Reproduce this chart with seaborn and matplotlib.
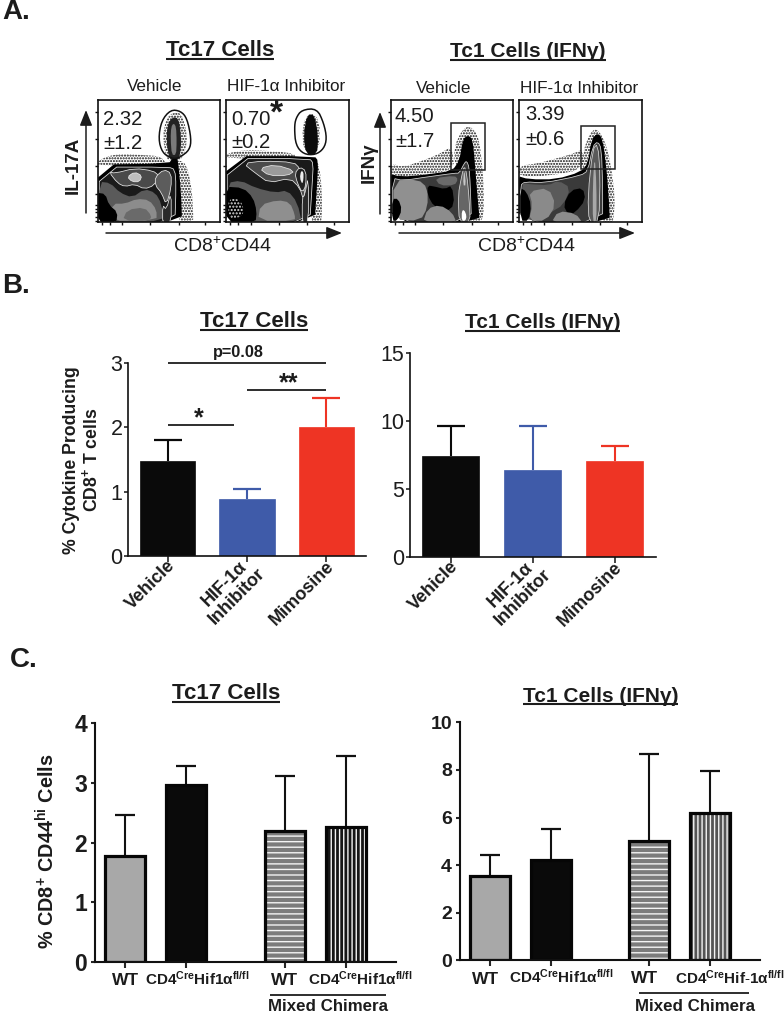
import matplotlib
matplotlib.use("Agg")
import matplotlib.pyplot as plt
from matplotlib.patches import Polygon, Rectangle
from matplotlib.transforms import ScaledTranslation
import numpy as np
import seaborn as sns

sns.set_style("ticks")
plt.rcParams["font.family"] = ["Liberation Sans", "DejaVu Sans"]
plt.rcParams["mathtext.fontset"] = "custom"
plt.rcParams["mathtext.rm"] = "Liberation Sans"
plt.rcParams["mathtext.it"] = "Liberation Sans"
plt.rcParams["mathtext.bf"] = "Liberation Sans:bold"
plt.rcParams["mathtext.default"] = "regular"
plt.rcParams["hatch.linewidth"] = 1.0

W, H = 784, 1013
INK = "#1c1c1c"

# ---------- data ----------
b_categories = ["Vehicle", "HIF-1α\nInhibitor", "Mimosine"]
b_tc17_mean = [1.47, 0.88, 2.01]
b_tc17_top = [1.81, 1.04, 2.45]
b_tc1_mean = [7.45, 6.45, 7.08]
b_tc1_top = [9.68, 9.63, 8.19]
b_colors = ["#0a0a0a", "#3f5ba9", "#ee3424"]

c_left_labels = ["WT", r"$\mathbf{CD4^{Cre}Hif1α^{fl/fl}}$", "WT", r"$\mathbf{CD4^{Cre}Hif1α^{fl/fl}}$"]
c_right_labels = ["WT", r"$\mathbf{CD4^{Cre}Hif1α^{fl/fl}}$", "WT", r"$\mathbf{CD4^{Cre}Hif\text{-}1α^{fl/fl}}$"]
c_slots = [0, 1, 2.62, 3.62]
c_tc17_mean = [1.77, 2.97, 2.20, 2.27]
c_tc17_top = [2.46, 3.29, 3.11, 3.46]
c_tc1_mean = [3.56, 4.22, 5.01, 6.18]
c_tc1_top = [4.43, 5.53, 8.66, 7.96]

flow_stats = [("2.32", "±1.2"), ("0.70", "±0.2"), ("4.50", "±1.7"), ("3.39", "±0.6")]

# flow plot shapes in percent of the plot box
# (points, fill, edge)
gate_1 = [(59.5, 92), (67.7, 91), (73, 85), (76.5, 68), (75, 59), (67.7, 53.4), (63.7, 52),
          (59.5, 52.5), (52.7, 56.9), (49.5, 68), (52, 83)]
gate_2 = [(56.7, 85), (61.6, 92), (74, 93), (79.5, 81), (82, 68.5), (79.5, 60), (72.6, 55),
          (63, 55.6), (56.7, 63), (55.6, 77)]
gate_3 = (48.8, 42.5, 77.3, 81.4)
gate_4 = (50.5, 43.3, 77.7, 78.6)

speckle_1 = [
    [(0, 46), (0, 50), (8, 54), (20, 56), (35, 55), (50, 54), (55, 50), (55, 46)],
    [(62, 50), (70, 50), (74, 42), (77, 25), (78, 8), (78, 0), (64, 0)],
    [(56, 52), (53, 70), (56, 85), (62, 90), (68, 89), (72, 78), (73, 65), (70, 54), (66, 50), (60, 50)],
]
speckle_2 = [
    [(0, 52), (0, 56), (15, 59), (40, 58), (56, 56), (56, 52)],
    [(72, 54), (76, 45), (78, 25), (78, 2), (76, 0), (68, 0)],
    [(63, 57), (62, 80), (68, 90), (76, 84), (76, 58)],
]
speckle_3 = [
    [(0, 37), (0, 48), (10, 45), (25, 50), (38, 55), (50, 62), (52, 43), (30, 39)],
    [(52, 48), (52, 62), (58, 75), (64, 79), (71, 72), (74, 55), (76, 30), (76, 5), (73, 0), (64, 0)],
]
speckle_4 = [
    [(0, 37), (0, 46), (15, 48), (30, 52), (44, 56), (52, 60), (52, 43), (25, 38)],
    [(50, 44), (54, 65), (60, 76), (65, 75), (71, 63), (75, 45), (78, 20), (77, 3), (75, -2), (68, -2)],
]
light_speckle_2 = [(2, 3), (2, 20), (12, 18), (15, 8), (10, 3)]

layers_1 = [
    ([(59, 50), (56, 65), (57, 80), (61, 86), (66, 85), (68, 72), (68, 60), (66, 50)], "#222222", "none"),
    ([(60.5, 55), (59.5, 68), (60, 78), (62, 81), (64, 78), (64.5, 66), (64, 55)], "#7a7a7a", "none"),
    ([(-2, -2), (-2, 47), (58, 48), (61, 52), (65, 52), (66, 46), (68, 25), (69, -2)], "#000000", "none"),
    ([(1, -2), (1, 45), (58, 45), (63, 43), (64, 30), (63, -2)], "#1a1a1a", "#e8e8e8"),
    ([(1, 1), (1, 33), (10, 32), (18, 24), (28, 20), (38, 27), (47, 24), (52, 15), (54, -1)], "#5a5a5a", "none"),
    ([(8, 1), (12, 15), (22, 15), (32, 19), (42, 18), (48, 10), (48, 1)], "#8c8c8c", "none"),
    ([(20, 1), (24, 10), (38, 12), (44, 5), (42, 1)], "#6a6a6a", "none"),
    ([(-1, -1), (-1, 24), (6, 23), (9, 14), (16, 8), (15, -1)], "#000000", "none"),
    ([(9, 41), (14, 40), (30, 44), (45, 42), (50, 38), (46, 30), (38, 27), (30, 31), (22, 29), (16, 32)], "#4a4a4a", "#e8e8e8"),
    ([(24, 37), (30, 41), (36, 38), (34, 33), (28, 33)], "#bdbdbd", "#e8e8e8"),
    ([(47, 37), (54, 43), (60, 40), (60, 28), (56, 14), (52, 24), (47, 30)], "#5c5c5c", "#e8e8e8"),
    ([(53, -2), (53, 14), (56, 10), (60, 25), (60, -2)], "#2a2a2a", "#e8e8e8"),
]
layers_2 = [
    ([(65, 55), (63, 72), (66, 88), (72, 88), (75, 70), (74, 55)], "#0c0c0c", "none"),
    ([(-2, -2), (-2, 54), (72, 54), (75, 50), (74, 30), (72, -2)], "#000000", "none"),
    ([(1, -2), (1, 52), (68, 52), (71, 48), (70, 30), (68, -2)], "#1a1a1a", "#e8e8e8"),
    ([(1, 1), (1, 32), (12, 34), (24, 28), (40, 24), (50, 26), (58, 16), (62, -2)], "#5a5a5a", "none"),
    ([(26, 1), (28, 14), (42, 18), (52, 16), (56, 6), (56, 1)], "#8f8f8f", "none"),
    ([(-1, -1), (-1, 29), (14, 28), (22, 20), (25, 9), (24, -1)], "#000000", "none"),
    ([(14, 48), (30, 50), (55, 49), (60, 44), (65, 32), (63, 18), (60, 28), (52, 36), (35, 32), (24, 40)], "#4a4a4a", "#e8e8e8"),
    ([(27, 44), (40, 47), (56, 42), (50, 38), (35, 38)], "#9a9a9a", "#e8e8e8"),
    ([(56, 40), (60, 45), (65, 42), (65, 30), (62, 24), (58, 32)], "#222222", "#e8e8e8"),
    ([(60, 36), (61, 42), (63, 41), (63, 35), (62, 31)], "#eeeeee", "none"),
    ([(62, -2), (62, 20), (64, 22), (67, 38), (67, -2)], "#2a2a2a", "#e8e8e8"),
]
layers_3 = [
    ([(-2, -2), (-2, 40), (8, 37), (30, 39), (50, 42), (56, 50), (59, 68), (63, 71), (67, 68), (69, 45), (71, 20), (73, -2)], "#000000", "none"),
    ([(1, -1), (1, 36), (10, 34), (30, 37), (52, 40), (56, 40), (60, 48), (62, 50), (64, 45), (65, 30), (66, -1)], "#3a3a3a", "#d8d8d8"),
    ([(2, 2), (2, 34), (22, 35), (30, 28), (30, 12), (24, 1)], "#909090", "none"),
    ([(36, 36), (52, 38), (55, 35), (52, 30), (40, 30)], "#6a6a6a", "none"),
    ([(30, 30), (36, 29), (44, 27), (50, 30), (52, 14), (45, 8), (35, 13), (30, 22)], "#000000", "none"),
    ([(26, -1), (30, 11), (40, 14), (50, 8), (54, -1)], "#8c8c8c", "none"),
    ([(1, 1), (1, 19), (6, 19), (9, 10), (5, 1)], "#000000", "none"),
    ([(56, -1), (55, 22), (58, 38), (60, 46), (62, 40), (64, 20), (65, -1)], "#666666", "#d8d8d8"),
    ([(59, 30), (60, 44), (61.5, 30)], "#c8c8c8", "none"),
    ([(58, 1), (58, 9), (60, 10), (62, 5), (61, 1)], "#ffffff", "none"),
]
layers_4 = [
    ([(-2, -2), (-2, 38), (8, 35), (30, 35), (50, 41), (56, 48), (59, 68), (64, 73), (68, 68), (71, 45), (73, 20), (74, -2)], "#000000", "none"),
    ([(1, -1), (1, 30), (5, 33), (20, 32), (50, 38), (56, 42), (60, 62), (64, 66), (67, 60), (68, 30), (68, -1)], "#3a3a3a", "#d8d8d8"),
    ([(2, 2), (2, 32), (8, 31), (24, 30), (32, 34), (42, 28), (36, 14), (26, 8), (18, 2)], "#5a5a5a", "none"),
    ([(8, 1), (11, 14), (8, 25), (24, 28), (30, 14), (22, 1)], "#8a8a8a", "none"),
    ([(1, 1), (1, 28), (6, 25), (10, 14), (8, 1)], "#000000", "none"),
    ([(36, 14), (42, 26), (52, 28), (54, 18), (46, 8), (40, 6)], "#000000", "none"),
    ([(26, -1), (32, 9), (46, 7), (52, -1)], "#8c8c8c", "none"),
    ([(57, -1), (56, 22), (60, 60), (64, 64), (66, 40), (65, -1)], "#5a5a5a", "#d8d8d8"),
    ([(60, -1), (60, 30), (61.5, 55), (63, 30), (63, -1)], "#a8a8a8", "none"),
]
flow_xticks = [3, 10, 20, 43, 66, 88]
flow_yticks = [1, 4, 8, 11, 14, 23, 46, 68, 90]

# ---------- helpers ----------
fig = plt.figure(figsize=(W / 100, H / 100), dpi=100, facecolor="white")


def axes_px(x0, y0, x1, y1):
    """Axes from a pixel box: left, top, right, bottom."""
    return fig.add_axes([x0 / W, 1 - y1 / H, (x1 - x0) / W, (y1 - y0) / H])


over = fig.add_axes([0, 0, 1, 1], zorder=20)
over.set_xlim(0, W)
over.set_ylim(H, 0)
over.axis("off")
over.patch.set_alpha(0)


def txt(x, y, s, size, weight="normal", ha="center", va="baseline", rot=0, color=INK):
    over.text(x, y, s, fontsize=size, fontweight=weight, ha=ha, va=va, rotation=rot, color=color,
              rotation_mode="anchor" if rot else "default")


def rule(x0, x1, y, lw=1.3, color=INK):
    over.plot([x0, x1], [y, y], color=color, lw=lw, solid_capstyle="butt")


def arrow(x0, y0, x1, y1):
    over.annotate("", xy=(x1, y1), xytext=(x0, y0),
                  arrowprops=dict(arrowstyle="-|>,head_length=0.75,head_width=0.3", color=INK, lw=1.1,
                                  mutation_scale=12.5, shrinkA=0, shrinkB=0))


def title(cx, base, s, size=16):
    t = over.text(cx, base, s, fontsize=size, fontweight="bold", ha="center", va="baseline", color=INK)
    fig.canvas.draw()
    bb = t.get_window_extent()
    rule(bb.x0, bb.x1, base + 2.7, lw=1.5)


def smooth(pts, n=2):
    p = np.array(pts, float)
    for _ in range(n):
        q = np.roll(p, -1, axis=0)
        p = np.column_stack([0.75 * p + 0.25 * q, 0.25 * p + 0.75 * q]).reshape(-1, 2)
    return p


def flow_panel(box, speckles, layers, gate=None, rect=None, light=None):
    ax = axes_px(*box)
    ax.set_xlim(0, 100)
    ax.set_ylim(0, 100)
    for s in ax.spines.values():
        s.set_linewidth(1.2)
        s.set_color("#111111")
    ax.set_xticks(flow_xticks)
    ax.set_yticks(flow_yticks)
    ax.set_xticklabels([])
    ax.set_yticklabels([])
    ax.tick_params(length=2.5, width=1.0, color="#111111")
    for pts in speckles:
        ax.add_patch(Polygon(smooth(pts, 1), closed=True, fill=False, hatch="......", ec="#111111", lw=0))
    for pts, fc, ec in layers:
        ax.add_patch(Polygon(smooth(pts, 1), closed=True, fc=fc, ec=ec, lw=0.55 if ec != "none" else 0))
    if light is not None:
        ax.add_patch(Polygon(smooth(light, 1), closed=True, fill=False, hatch=".....", ec="#dddddd", lw=0))
    if gate is not None:
        ax.add_patch(Polygon(smooth(gate, 2), closed=True, fill=False, ec="#111111", lw=1.1))
    if rect is not None:
        ax.add_patch(Rectangle((rect[0], rect[1]), rect[2] - rect[0], rect[3] - rect[1], fill=False,
                               ec="#222222", lw=1.1))
    return ax


def upper_bar(ax, x, m, t, color, capsize):
    _, caps, _ = ax.errorbar(x, m, yerr=[[0], [t - m]], color=color, lw=1.5, capsize=capsize,
                             capthick=1.6, zorder=0.5)
    caps[0].set_visible(False)


def b_panel(box, mean, top, ymax, yticks):
    ax = axes_px(*box)
    sns.barplot(x=list(range(len(mean))), y=mean, ax=ax, width=0.7, errorbar=None, color="k", saturation=1)
    for p, c in zip(ax.patches, b_colors):
        p.set_facecolor(c)
        p.set_edgecolor(c)
        p.set_linewidth(0.5)
    for i, (m, t, c) in enumerate(zip(mean, top, b_colors)):
        upper_bar(ax, i, m, t, c, 10)
    ax.set_xlim(-0.5, 2.5)
    ax.set_ylim(0, ymax)
    ax.set_yticks(yticks)
    ax.set_xticks(range(3))
    ax.tick_params(axis="y", labelsize=15.5, length=3, width=1.2, pad=1, labelcolor=INK)
    ax.tick_params(axis="x", length=4, width=1.2, pad=0)
    ax.set_xticklabels(b_categories, rotation=45, ha="right", rotation_mode="anchor",
                       fontsize=13, fontweight="bold", color=INK, multialignment="center", linespacing=1.05)
    shifts = [(-1, -5), (-3, -9), (-1, -4)]
    for lab, (dx, dy) in zip(ax.get_xticklabels(), shifts):
        lab.set_transform(lab.get_transform() + ScaledTranslation(dx / 100, -dy / 100, fig.dpi_scale_trans))
    for s in ("top", "right"):
        ax.spines[s].set_visible(False)
    for s in ("left", "bottom"):
        ax.spines[s].set_linewidth(1.2)
        ax.spines[s].set_color("#111111")
    return ax


def c_panel(box, slots, mean, top, ymax, yticks, labels, shifts, xlim, ysize, stripe):
    ax = axes_px(*box)
    sns.barplot(x=slots, y=mean, ax=ax, native_scale=True, width=0.66, errorbar=None, color="k", saturation=1)
    fills = ["#a8a8a8", "#0a0a0a", "#7c7c7c", stripe]
    hatches = [None, None, "---", "||||"]
    for p, fc, h in zip(list(ax.patches), fills, hatches):
        p.set_facecolor(fc)
        p.set_edgecolor("#f4f4f4" if h else "#060606")
        p.set_linewidth(0 if h else 2.3)
        if h:
            p.set_hatch(h)
            ax.add_patch(Rectangle(p.get_xy(), p.get_width(), p.get_height(), fill=False, ec="#060606",
                                   lw=2.3, zorder=p.get_zorder() + 0.5))
    for x, m, t in zip(slots, mean, top):
        upper_bar(ax, x, m, t, "#111111", 7.5)
    ax.set_xlim(*xlim)
    ax.set_ylim(0, ymax)
    ax.set_yticks(yticks)
    ax.set_xticks(slots)
    ax.tick_params(axis="y", labelsize=ysize, length=3, width=1.5, pad=2.5, labelcolor=INK)
    for lab in ax.get_yticklabels():
        lab.set_fontweight("bold")
    ax.tick_params(axis="x", length=4, width=1.5, pad=12.6)
    ax.set_xticklabels(labels, fontsize=11, fontweight="bold", color=INK)
    for lab, (dx, dy) in zip(ax.get_xticklabels(), shifts):
        lab.set_va("baseline")
        if lab.get_text() == "WT":
            lab.set_fontsize(12.5)
        lab.set_transform(lab.get_transform() + ScaledTranslation(dx / 100, -dy / 100, fig.dpi_scale_trans))
    for s in ("top", "right"):
        ax.spines[s].set_visible(False)
    for s in ("left", "bottom"):
        ax.spines[s].set_linewidth(1.5)
        ax.spines[s].set_color("#111111")
    return ax


# ---------- panel A ----------
flow_panel((98, 100, 220, 222), speckle_1, layers_1, gate=gate_1)
flow_panel((226, 100, 349, 222), speckle_2, layers_2, gate=gate_2, light=light_speckle_2)
flow_panel((391, 100, 513, 222), speckle_3, layers_3, rect=gate_3)
flow_panel((519, 100, 642, 222), speckle_4, layers_4, rect=gate_4)

txt(2, 19, "A.", 20, "bold", ha="left")
title(219.7, 56, "Tc17 Cells")
title(528, 57, "Tc1 Cells (IFNγ)", 15)
txt(154.7, 91, "Vehicle", 12.3)
txt(285.8, 91, "HIF-1α Inhibitor", 12.3)
txt(443.7, 93, "Vehicle", 12.3)
txt(579.5, 93, "HIF-1α Inhibitor", 12.3)

stat_pos = [(103, 125, 149), (231, 125, 148), (395, 122, 146.7), (525, 120, 145)]
for (a, b), (x, y1, y2) in zip(flow_stats, stat_pos):
    txt(x, y1, a, 14.6, ha="left")
    txt(x, y2, b, 14.6, ha="left")
txt(276, 123, "*", 24, "bold")

txt(78, 165, "IL-17A", 13.5, "bold", rot=90, va="baseline")
txt(374, 163, "IFNγ", 13.5, "bold", rot=90, va="baseline")
txt(222.7, 252, r"CD8$^{+}$CD44", 14)
txt(527, 252, r"CD8$^{+}$CD44", 14)
arrow(86, 213, 86, 110)
arrow(106, 233, 342, 233)
arrow(380, 214, 380, 112)
arrow(399, 233, 635, 233)

# ---------- panel B ----------
b_panel((128, 363, 366, 556), b_tc17_mean, b_tc17_top, 3, [0, 1, 2, 3])
b_panel((409.7, 353.3, 655.7, 557.3), b_tc1_mean, b_tc1_top, 15, [0, 5, 10, 15])

txt(2, 293, "B.", 20, "bold", ha="left")
title(253.8, 327, "Tc17 Cells")
title(542.7, 328, "Tc1 Cells (IFNγ)", 15)
txt(76, 460, "% Cytokine Producing", 12.7, "bold", rot=90)
txt(97, 460, r"CD8$^{+}$ T cells", 12.7, "bold", rot=90)
rule(168, 326, 362.7)
rule(247, 326, 389.7)
rule(168, 234, 425)
txt(238.7, 356.7, "p=0.08", 11.7, "bold")
txt(289, 390, "**", 18, "bold")
txt(198.7, 425, "*", 18, "bold")

# ---------- panel C ----------
c_panel((95, 723.3, 396, 962), c_slots, c_tc17_mean, c_tc17_top, 4, [0, 1, 2, 3, 4], c_left_labels,
        [(0, 0), (11, 0), (0, 0), (14, 0)], (-0.497, 4.44), 16.5, "#161616")
c_panel((459.7, 722.3, 759.7, 960.3), c_slots, c_tc1_mean, c_tc1_top, 10, [0, 2, 4, 6, 8, 10], c_right_labels,
        [(-4, 1), (10.5, -1), (-5, 0), (20, 0)], (-0.495, 4.44), 14, "#555555")

txt(10, 667, "C.", 20, "bold", ha="left")
title(225.7, 699, "Tc17 Cells")
title(600.7, 701.7, "Tc1 Cells (IFNγ)", 15)
txt(55, 851, r"% CD8$^{+}$ CD44$^{hi}$ Cells", 14.3, "bold", rot=90)
rule(270, 386, 995)
rule(638.7, 748.7, 993)
txt(328, 1010.7, "Mixed Chimera", 12.2, "bold")
txt(695, 1010.7, "Mixed Chimera", 12.2, "bold")

fig.savefig("out.png", dpi=100, facecolor="white")
